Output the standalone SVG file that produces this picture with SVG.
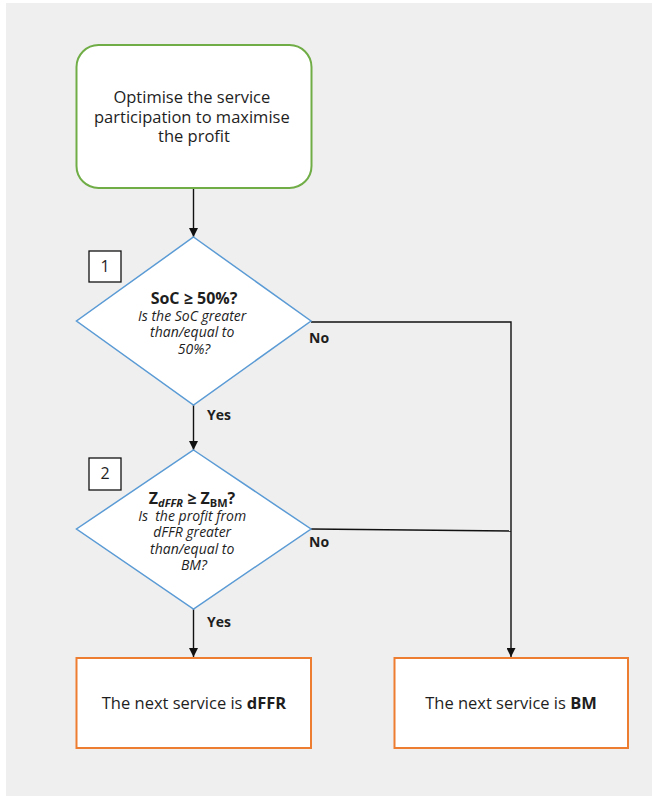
<svg xmlns="http://www.w3.org/2000/svg" width="652" height="796" viewBox="0 0 652 796">
<defs>
<marker id="arr" viewBox="0 0 10 10" refX="10" refY="5" markerWidth="9" markerHeight="9" markerUnits="userSpaceOnUse" orient="auto">
<path d="M0,0 L10,5 L0,10 z" fill="#111"/>
</marker>
<style>
text{font-family:"Open Sans","Noto Sans","Liberation Sans",sans-serif;fill:#1e1e1e}
.main{font-size:16.5px}
.ttl{font-size:16px;font-weight:bold}
.it{font-size:14px;font-style:italic}
.lbl{font-size:14px;font-weight:bold}
.num{font-size:16px}
.conn{stroke:#111;stroke-width:1.4;fill:none}
.green{fill:#fff;stroke:#70ad47;stroke-width:2}
.dia{fill:#fff;stroke:#5b9bd5;stroke-width:1.5}
.orange{fill:#fff;stroke:#ed7d31;stroke-width:2}
.sq{fill:#fff;stroke:#111;stroke-width:1.3}
</style>
</defs>
<rect x="6" y="3" width="646" height="793" fill="#efefef"/>

<g id="connectors">
<line class="conn" x1="193.5" y1="188" x2="193.5" y2="237" marker-end="url(#arr)"/>
<line class="conn" x1="193.5" y1="405" x2="193.5" y2="450" marker-end="url(#arr)"/>
<line class="conn" x1="193.5" y1="609" x2="193.5" y2="657" marker-end="url(#arr)"/>
<polyline class="conn" points="311,322 511,322 511,657" marker-end="url(#arr)"/>
<line class="conn" x1="311" y1="529" x2="511" y2="531"/>
<text class="lbl" x="309" y="343">No</text>
<text class="lbl" x="207" y="420">Yes</text>
<text class="lbl" x="309" y="547">No</text>
<text class="lbl" x="207" y="627">Yes</text>
</g>

<g id="start">
<rect class="green" x="76.5" y="45" width="235" height="143" rx="22" ry="22"/>
<text class="main" text-anchor="middle">
<tspan x="194" y="103">Optimise the service</tspan>
<tspan x="194" y="122.5">participation to maximise</tspan>
<tspan x="194" y="142">the profit</tspan>
</text>
</g>

<g id="decision1">
<polygon class="dia" points="193.5,237 311,321 193.5,405 76.5,321"/>
<rect class="sq" x="89" y="251" width="32" height="31"/>
<text class="num" x="105" y="272" text-anchor="middle">1</text>
<text class="ttl" x="194" y="304" text-anchor="middle">SoC ≥ 50%?</text>
<text class="it" text-anchor="middle">
<tspan x="194" y="320.5">Is the SoC greater</tspan>
<tspan x="194" y="337">than/equal to</tspan>
<tspan x="194" y="353.5">50%?</tspan>
</text>
</g>

<g id="decision2">
<polygon class="dia" points="193.5,450 311,529 193.5,609 76.5,529"/>
<rect class="sq" x="89" y="458" width="32" height="32"/>
<text class="num" x="105" y="479" text-anchor="middle">2</text>
<text class="ttl" x="192" y="504" text-anchor="middle">Z<tspan font-size="11" font-style="italic" dy="3">dFFR</tspan><tspan dy="-3"> ≥ Z</tspan><tspan font-size="11" dy="3">BM</tspan><tspan dy="-3">?</tspan></text>
<text class="it" text-anchor="middle">
<tspan x="194" y="520.5" xml:space="preserve">Is  the profit from</tspan>
<tspan x="194" y="537">dFFR greater</tspan>
<tspan x="194" y="553.5">than/equal to</tspan>
<tspan x="194" y="570">BM?</tspan>
</text>
</g>

<g id="dffr">
<rect class="orange" x="76.5" y="658" width="234.5" height="90"/>
<text class="main" x="194" y="709" text-anchor="middle">The next service is <tspan font-weight="bold">dFFR</tspan></text>
</g>

<g id="bm">
<rect class="orange" x="394.5" y="658" width="233.5" height="90"/>
<text class="main" x="511" y="709" text-anchor="middle">The next service is <tspan font-weight="bold">BM</tspan></text>
</g>
</svg>
